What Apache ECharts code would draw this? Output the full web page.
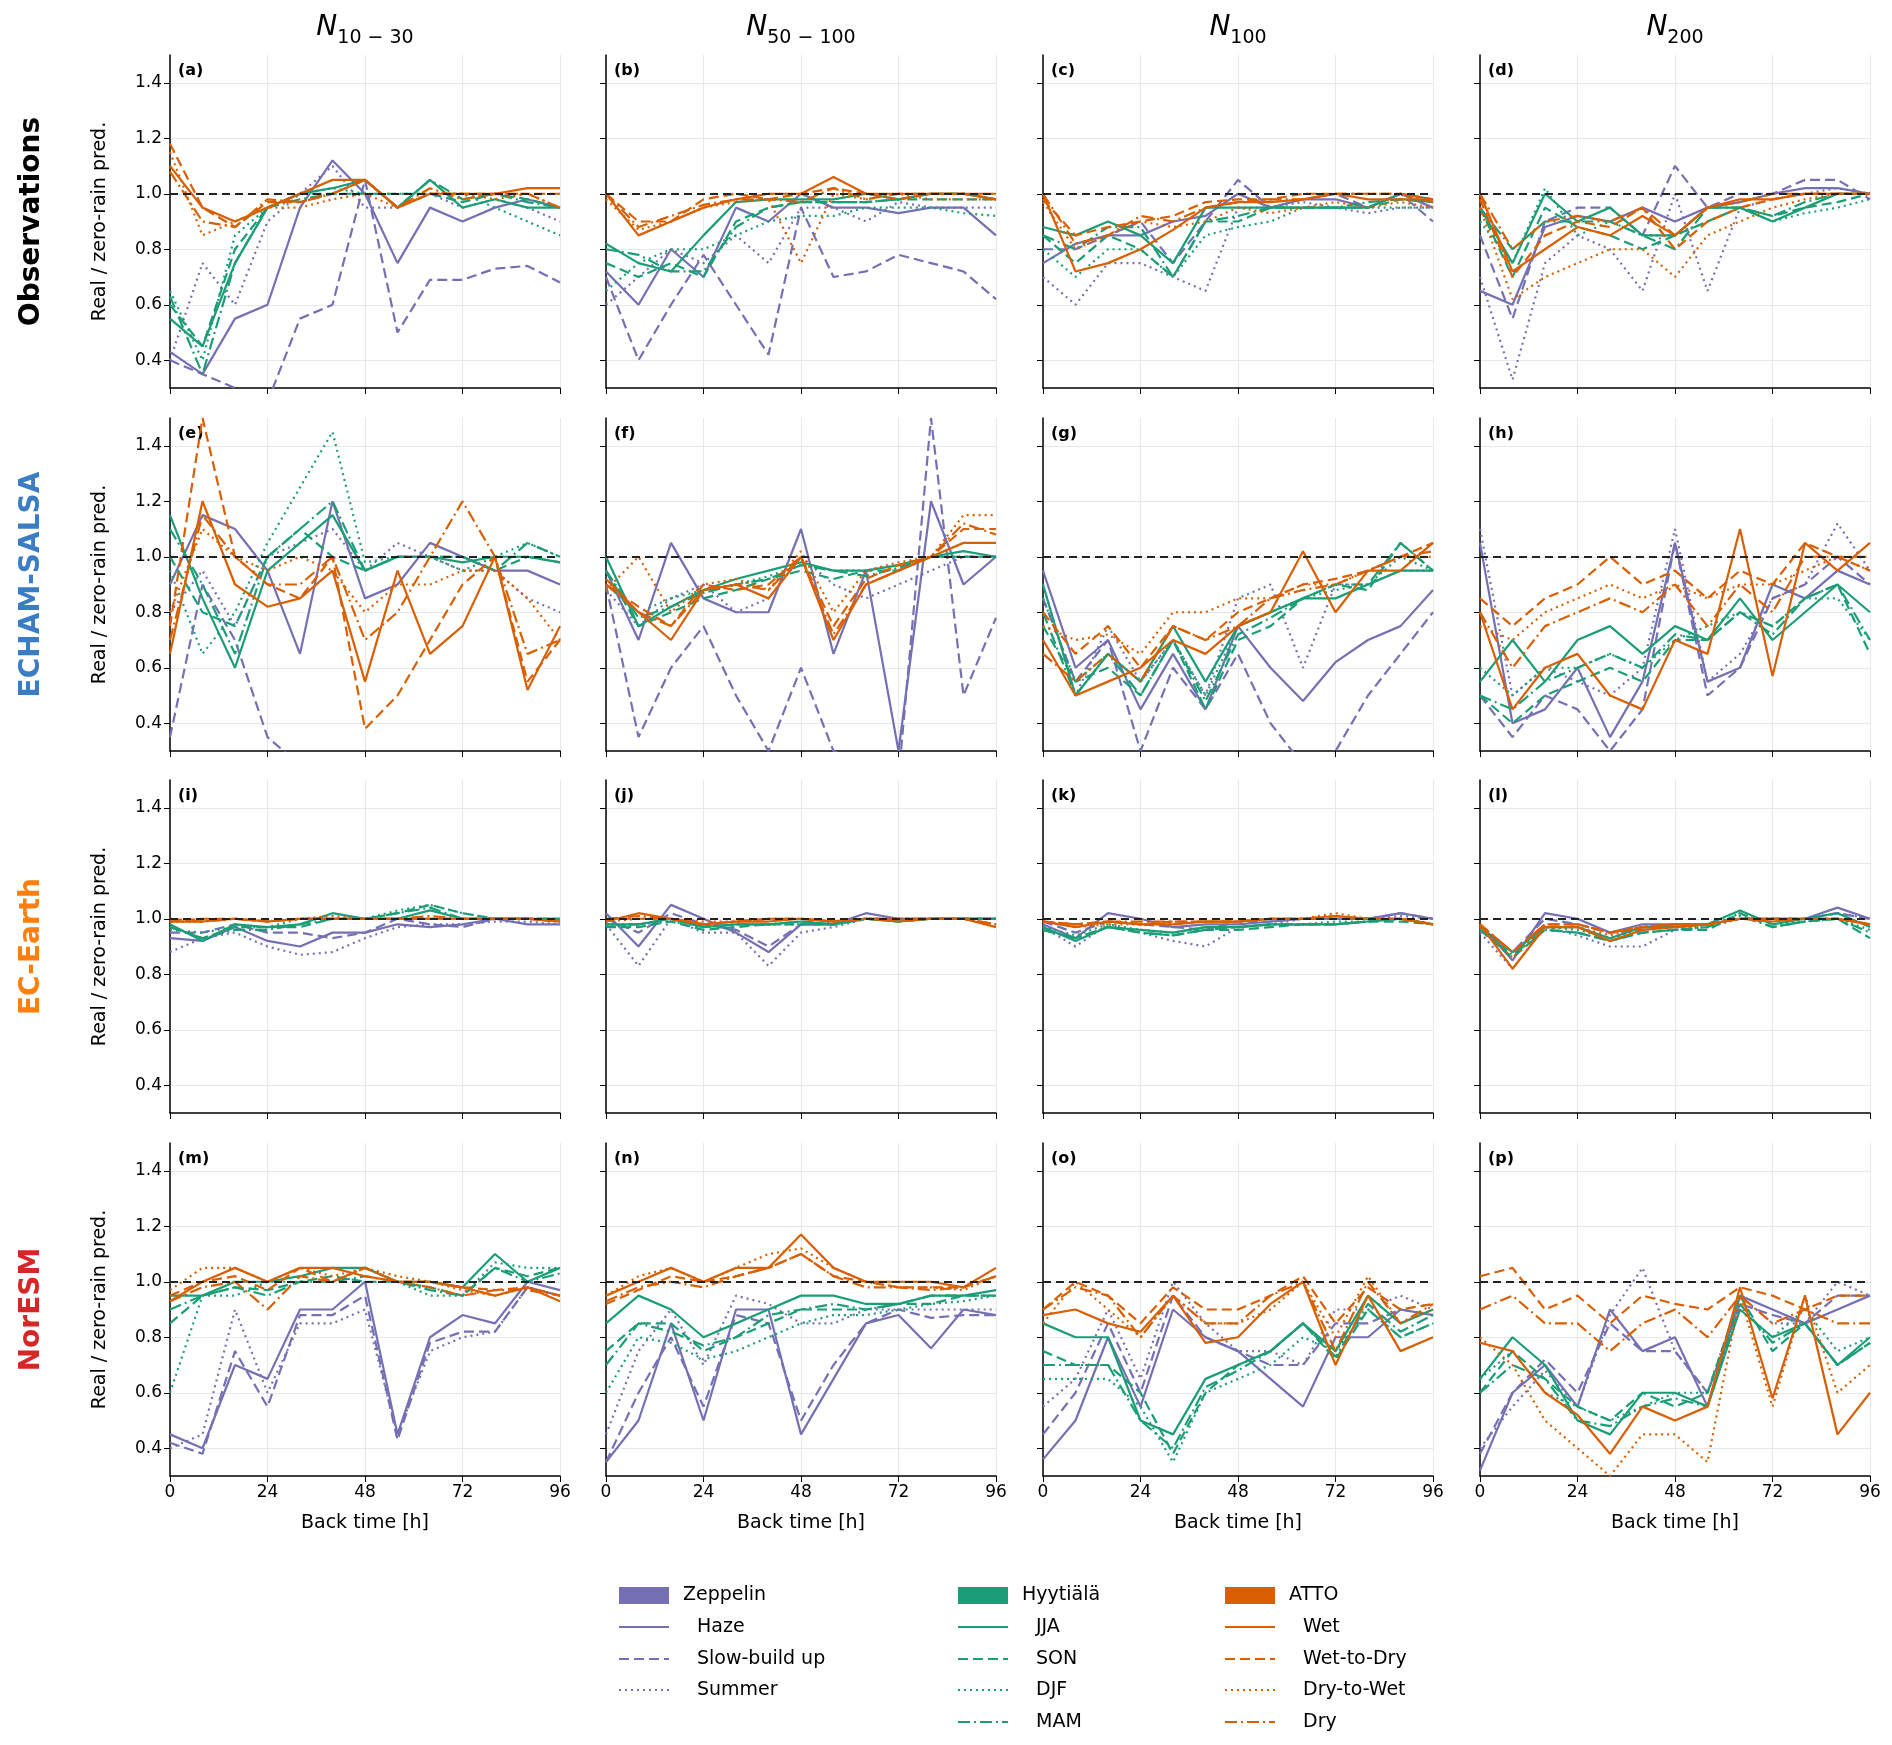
<!DOCTYPE html>
<html>
<head>
<meta charset="utf-8">
<script src="https://cdn.jsdelivr.net/npm/echarts@6/dist/echarts.min.js"></script>
<style>html,body{margin:0;background:#fff}#chart{width:1892px;height:1745px}</style>
</head>
<body>
<div id="chart"></div>
<script>
// back time (h) sampled every 8 h
var backTime = [0, 8, 16, 24, 32, 40, 48, 56, 64, 72, 80, 88, 96];
var seriesNames = ['Haze', 'Slow-build up', 'Summer', 'JJA', 'SON', 'DJF', 'MAM', 'Wet', 'Wet-to-Dry', 'Dry-to-Wet', 'Dry'];
var colTitles = ['10 − 30', '50 − 100', '100', '200'];
var rowTitles = ['Observations', 'ECHAM-SALSA', 'EC-Earth', 'NorESM'];
var rowColors = ['#000000', '#3b7dc4', '#ff7f0e', '#d62728'];
var letters = 'abcdefghijklmnop'.split('');
var yTicks = [0.4, 0.6, 0.8, 1.0, 1.2, 1.4];

// each panel: 11 series in order of seriesNames
var panelA = [
	[0.43,0.35,0.55,0.6,0.95,1.12,1.0,0.75,0.95,0.9,0.95,0.98,0.95],
	[0.4,0.35,0.3,0.25,0.55,0.6,1.05,0.5,0.69,0.69,0.73,0.74,0.68],
	[0.4,0.75,0.6,0.9,1.0,1.1,0.95,0.95,1.0,0.95,0.98,0.95,0.9],
	[0.55,0.45,0.75,0.95,1.0,1.02,1.05,0.95,1.05,0.95,0.98,0.95,0.95],
	[0.6,0.45,0.8,0.95,1.0,1.0,1.0,1.0,1.0,0.97,1.0,0.98,0.95],
	[0.65,0.4,0.85,0.95,1.0,1.02,1.0,1.0,1.0,1.0,0.95,0.9,0.85],
	[0.63,0.35,0.75,0.95,0.98,1.0,1.05,0.95,1.05,0.98,1.0,0.97,0.95],
	[1.1,0.95,0.9,0.95,1.0,1.05,1.05,0.95,1.0,1.0,1.0,1.02,1.02],
	[1.18,0.95,0.88,0.97,0.97,1.0,1.05,0.95,1.0,1.0,1.0,1.0,1.0],
	[1.15,0.85,0.9,0.95,0.95,0.98,1.0,0.95,1.0,1.0,0.98,1.0,0.95],
	[1.08,0.9,0.88,0.98,0.97,1.0,1.05,0.95,1.02,0.98,1.0,1.0,0.95]
];
var panelB = [
	[0.72,0.6,0.8,0.7,0.95,0.9,1.0,0.95,0.95,0.93,0.95,0.95,0.85],
	[0.7,0.4,0.6,0.78,0.6,0.42,0.95,0.7,0.72,0.78,0.75,0.72,0.62],
	[0.6,0.7,0.8,0.75,0.85,0.75,0.95,0.95,0.9,0.97,0.95,0.95,0.95],
	[0.82,0.75,0.72,0.85,0.97,0.98,0.98,0.98,1.0,0.98,1.0,1.0,0.98],
	[0.75,0.7,0.75,0.7,0.9,0.95,0.97,0.97,0.97,0.98,0.98,0.98,0.98],
	[0.65,0.75,0.8,0.8,0.85,0.9,0.92,0.92,0.95,0.95,0.95,0.93,0.92],
	[0.8,0.78,0.72,0.72,0.88,0.95,0.97,0.97,0.97,0.98,1.0,1.0,0.98],
	[1.0,0.85,0.9,0.95,0.98,1.0,1.0,1.06,1.0,1.0,1.0,1.0,1.0],
	[1.0,0.9,0.9,0.98,1.0,0.98,1.0,1.02,1.0,0.98,1.0,1.0,0.98],
	[0.98,0.87,0.9,0.95,0.97,0.98,0.75,1.0,0.98,1.0,0.98,0.98,0.98],
	[1.0,0.88,0.92,0.96,0.98,0.98,0.97,1.02,0.98,1.0,1.0,1.0,0.98]
];
var panelC = [
	[0.75,0.82,0.85,0.85,0.9,0.92,1.0,0.95,0.98,0.98,0.95,1.0,0.95],
	[0.8,0.8,0.85,0.9,0.75,0.9,1.05,0.95,0.98,1.0,0.95,1.0,0.9],
	[0.7,0.6,0.75,0.75,0.7,0.65,0.95,0.95,0.97,0.95,0.93,0.95,0.95],
	[0.88,0.85,0.9,0.85,0.75,0.95,0.95,0.95,0.95,0.95,0.95,1.0,0.98],
	[0.85,0.75,0.85,0.8,0.7,0.9,0.9,0.95,0.95,0.95,0.95,0.98,0.97],
	[0.8,0.7,0.8,0.8,0.7,0.85,0.88,0.9,0.95,0.95,0.95,0.95,0.95],
	[0.85,0.8,0.88,0.88,0.7,0.9,0.92,0.95,0.95,0.95,0.97,0.98,0.97],
	[1.0,0.72,0.75,0.8,0.87,0.95,0.97,0.97,0.98,1.0,0.98,0.98,0.98],
	[0.98,0.85,0.88,0.9,0.92,0.97,0.98,0.98,1.0,1.0,1.0,1.0,0.98],
	[0.97,0.8,0.85,0.9,0.88,0.9,0.95,0.93,0.95,0.97,0.95,0.97,0.95],
	[1.0,0.82,0.85,0.92,0.9,0.95,0.97,0.98,0.98,1.0,1.0,1.0,0.97]
];
var panelD = [
	[0.65,0.6,0.88,0.92,0.9,0.95,0.9,0.95,0.97,1.0,1.02,1.02,1.0],
	[0.85,0.55,0.9,0.95,0.95,0.85,1.1,0.95,1.0,1.0,1.05,1.05,0.98],
	[0.7,0.33,0.75,0.85,0.8,0.65,1.0,0.65,0.95,0.98,1.0,1.02,1.0],
	[0.95,0.75,1.0,0.9,0.95,0.85,0.85,0.95,0.95,0.9,0.95,1.0,1.0],
	[0.95,0.7,0.95,0.88,0.85,0.8,0.85,0.9,0.95,0.92,0.95,0.97,1.0],
	[0.9,0.75,1.02,0.85,0.9,0.85,0.85,0.9,0.95,0.9,0.93,0.95,0.98],
	[0.95,0.8,0.9,0.9,0.9,0.85,0.8,0.95,0.95,0.92,0.97,1.0,1.0],
	[1.0,0.72,0.8,0.88,0.85,0.92,0.85,0.95,0.98,0.98,1.0,1.0,1.0],
	[0.98,0.7,0.85,0.9,0.88,0.95,0.8,0.9,0.95,0.98,1.0,1.0,1.0],
	[0.95,0.62,0.7,0.75,0.8,0.8,0.7,0.85,0.9,0.95,0.98,1.0,1.0],
	[1.0,0.8,0.9,0.92,0.9,0.95,0.85,0.95,0.97,1.0,1.0,1.0,1.0]
];
var panelE = [
	[0.9,1.15,1.1,0.95,0.65,1.2,0.85,0.9,1.05,1.0,0.95,0.95,0.9],
	[0.35,0.9,0.7,0.35,0.25,0.2,0.2,0.2,0.2,0.2,0.2,0.2,0.2],
	[0.8,0.95,0.75,1.0,1.05,1.1,0.95,1.05,1.0,0.95,0.95,0.85,0.8],
	[1.15,0.85,0.6,0.95,1.05,1.15,0.95,1.0,1.0,0.98,1.0,1.0,0.98],
	[1.0,0.8,0.75,1.0,1.1,1.0,0.95,1.0,1.0,1.0,0.95,1.0,0.98],
	[0.95,0.65,0.8,1.05,1.25,1.45,0.98,1.0,1.0,0.95,1.0,1.05,1.0],
	[1.1,0.9,0.65,1.0,1.1,1.2,0.95,1.0,1.0,1.0,0.95,1.05,1.0],
	[0.65,1.2,0.9,0.82,0.85,0.95,0.55,0.95,0.65,0.75,1.0,0.52,0.75],
	[0.75,1.5,1.0,0.9,0.85,1.0,0.38,0.5,0.7,0.9,1.0,0.55,0.7],
	[0.8,1.1,1.0,0.95,1.0,0.95,0.8,0.9,0.9,0.95,0.95,0.85,0.7],
	[0.7,1.15,1.0,0.9,0.9,1.0,0.7,0.8,1.0,1.2,1.0,0.65,0.7]
];
var panelF = [
	[0.95,0.7,1.05,0.85,0.8,0.8,1.1,0.65,0.95,0.3,1.2,0.9,1.0],
	[0.9,0.35,0.6,0.75,0.5,0.3,0.6,0.3,0.25,0.2,1.5,0.5,0.78],
	[0.88,0.75,0.85,0.9,0.8,0.85,1.0,0.9,0.85,0.9,0.95,1.0,1.0],
	[1.0,0.75,0.82,0.88,0.92,0.95,0.98,0.95,0.95,0.97,1.0,1.02,1.0],
	[0.95,0.75,0.8,0.85,0.88,0.92,0.95,0.92,0.95,0.95,1.0,1.0,1.0],
	[0.9,0.8,0.85,0.88,0.9,0.93,0.97,0.95,0.95,0.97,1.0,1.0,1.0],
	[0.95,0.78,0.82,0.87,0.9,0.92,0.97,0.95,0.93,0.96,1.0,1.0,1.0],
	[0.92,0.8,0.7,0.88,0.9,0.85,1.0,0.7,0.9,0.95,1.0,1.05,1.05],
	[0.9,0.82,0.75,0.9,0.88,0.9,1.0,0.75,0.92,0.97,1.0,1.1,1.1],
	[0.88,1.0,0.8,0.9,0.92,0.88,1.02,0.8,0.95,0.98,1.0,1.15,1.15],
	[0.9,0.8,0.75,0.88,0.9,0.88,1.0,0.72,0.9,0.95,1.0,1.12,1.08]
];
var panelG = [
	[0.95,0.6,0.7,0.45,0.65,0.45,0.75,0.6,0.48,0.62,0.7,0.75,0.88],
	[0.85,0.55,0.7,0.3,0.6,0.45,0.65,0.4,0.25,0.3,0.5,0.65,0.8],
	[0.9,0.5,0.75,0.55,0.7,0.5,0.85,0.9,0.6,0.9,0.9,0.95,0.95],
	[0.9,0.5,0.65,0.55,0.75,0.55,0.75,0.8,0.85,0.85,0.9,0.95,0.95],
	[0.75,0.55,0.6,0.5,0.7,0.45,0.7,0.75,0.85,0.9,0.88,1.05,0.95],
	[0.85,0.55,0.65,0.55,0.7,0.5,0.75,0.8,0.85,0.88,0.9,1.0,0.95],
	[0.8,0.5,0.65,0.5,0.7,0.48,0.72,0.78,0.85,0.9,0.9,1.05,0.95],
	[0.7,0.5,0.55,0.6,0.7,0.65,0.75,0.8,1.02,0.8,0.95,0.95,1.05],
	[0.8,0.65,0.75,0.6,0.75,0.7,0.8,0.85,0.9,0.92,0.95,1.0,1.05],
	[0.75,0.7,0.72,0.65,0.8,0.8,0.85,0.85,0.9,0.9,0.95,1.0,1.0],
	[0.65,0.55,0.65,0.55,0.75,0.7,0.75,0.85,0.88,0.9,0.95,1.0,1.02]
];
var panelH = [
	[1.05,0.4,0.45,0.6,0.35,0.55,1.05,0.55,0.6,0.9,0.85,0.95,0.9],
	[0.5,0.35,0.5,0.45,0.3,0.45,1.05,0.5,0.6,0.85,0.9,1.0,0.9],
	[1.1,0.5,0.6,0.55,0.5,0.6,1.1,0.55,0.65,0.85,0.9,1.12,0.95],
	[0.55,0.7,0.55,0.7,0.75,0.65,0.75,0.7,0.85,0.7,0.8,0.9,0.8],
	[0.5,0.4,0.5,0.55,0.6,0.55,0.7,0.7,0.8,0.75,0.85,0.9,0.65],
	[0.6,0.5,0.6,0.6,0.65,0.6,0.7,0.75,0.8,0.75,0.85,0.85,0.7],
	[0.5,0.45,0.55,0.6,0.65,0.6,0.72,0.7,0.8,0.72,0.85,0.9,0.7],
	[0.8,0.45,0.6,0.65,0.5,0.45,0.7,0.65,1.1,0.57,1.05,0.95,1.05],
	[0.85,0.75,0.85,0.9,1.0,0.9,0.95,0.85,0.95,0.9,1.05,1.0,0.95],
	[0.75,0.7,0.8,0.85,0.9,0.85,0.9,0.85,0.9,0.9,0.95,1.0,0.95],
	[0.8,0.6,0.75,0.8,0.85,0.8,0.9,0.75,0.9,0.8,1.0,1.0,1.0]
];
var panelI = [
	[0.93,0.92,0.97,0.92,0.9,0.95,0.95,0.98,0.97,0.98,1.0,0.98,0.98],
	[0.95,0.95,0.98,0.95,0.95,0.93,0.95,1.0,0.98,0.97,1.0,1.0,0.99],
	[0.88,0.93,0.95,0.9,0.87,0.88,0.93,0.97,0.98,0.98,0.99,0.99,0.98],
	[0.98,0.92,0.98,0.97,0.98,1.02,1.0,1.0,1.03,1.0,1.0,1.0,1.0],
	[0.97,0.93,0.97,0.97,0.97,1.0,1.0,1.02,1.05,1.02,1.0,1.0,1.0],
	[0.96,0.95,0.97,0.97,1.0,1.0,1.0,1.03,1.05,1.02,1.0,1.0,1.0],
	[0.97,0.93,0.96,0.96,0.98,1.0,1.0,1.02,1.04,1.0,1.0,1.0,1.0],
	[0.99,0.99,1.0,0.99,1.0,1.0,1.0,1.0,1.0,1.0,1.0,1.0,0.99],
	[0.99,1.0,1.0,0.99,1.0,1.0,1.0,1.0,1.0,1.0,1.0,1.0,0.99],
	[0.99,0.99,1.0,0.99,1.0,1.01,1.0,1.0,1.0,1.0,1.0,1.0,0.99],
	[1.0,0.99,1.0,0.99,1.0,1.0,1.0,1.0,1.01,1.0,1.0,1.0,0.99]
];
var panelJ = [
	[1.02,0.9,1.05,1.0,0.95,0.88,0.98,0.98,1.02,1.0,1.0,1.0,1.0],
	[1.0,0.95,1.02,0.98,0.96,0.9,0.98,0.98,1.0,1.0,1.0,1.0,1.0],
	[0.98,0.83,1.0,0.95,0.95,0.83,0.95,0.97,1.0,1.0,1.0,1.0,1.0],
	[0.98,0.98,1.0,0.97,0.98,0.98,0.99,0.98,1.0,0.99,1.0,1.0,1.0],
	[0.97,0.97,0.99,0.96,0.97,0.98,0.98,0.98,1.0,0.99,1.0,1.0,1.0],
	[0.97,0.98,0.99,0.97,0.98,0.98,0.98,0.99,1.0,0.99,1.0,1.0,1.0],
	[0.98,0.98,1.0,0.97,0.98,0.98,0.99,0.98,1.0,0.99,1.0,1.0,1.0],
	[0.99,1.02,1.0,0.98,0.99,0.99,1.0,0.99,1.0,0.99,1.0,1.0,0.97],
	[1.0,1.0,1.0,0.98,0.99,1.0,1.0,0.99,1.0,1.0,1.0,1.0,0.98],
	[0.99,1.0,1.0,0.99,0.99,1.0,1.0,0.99,1.0,1.0,1.0,1.0,0.98],
	[1.0,1.01,1.0,0.98,0.99,1.0,1.0,0.99,1.0,1.0,1.0,1.0,0.98]
];
var panelK = [
	[0.98,0.93,1.02,1.0,0.97,0.98,0.98,0.99,1.0,1.0,1.0,1.02,1.0],
	[0.99,0.95,0.99,0.98,0.97,0.96,0.99,0.99,1.0,1.0,1.0,1.02,1.0],
	[0.97,0.9,0.98,0.95,0.92,0.9,0.97,0.98,1.0,1.0,1.0,1.01,1.0],
	[0.97,0.92,0.97,0.96,0.95,0.97,0.97,0.98,0.98,0.98,0.99,1.0,0.98],
	[0.96,0.93,0.97,0.95,0.94,0.96,0.96,0.97,0.98,0.98,0.99,0.99,0.98],
	[0.97,0.94,0.98,0.96,0.95,0.97,0.97,0.98,0.98,0.99,0.99,1.0,0.98],
	[0.96,0.93,0.97,0.95,0.94,0.96,0.97,0.98,0.98,0.98,0.99,1.0,0.98],
	[0.99,0.97,0.99,0.98,0.98,0.99,0.99,1.0,1.0,1.01,1.0,1.0,0.98],
	[0.99,0.98,0.99,0.98,0.99,0.99,0.99,1.0,1.0,1.0,1.0,1.0,0.98],
	[0.99,0.97,0.98,0.98,0.98,0.99,0.99,1.0,1.0,1.02,1.0,1.0,0.98],
	[0.99,0.98,0.99,0.99,0.99,0.99,0.99,1.0,1.0,1.01,1.0,1.0,0.98]
];
var panelL = [
	[0.98,0.85,1.02,1.0,0.95,0.98,0.98,0.98,1.0,1.0,1.0,1.04,1.0],
	[0.97,0.88,1.0,0.98,0.95,0.96,0.98,0.98,1.0,1.0,1.0,1.02,1.0],
	[0.95,0.82,0.97,0.94,0.9,0.9,0.96,0.97,1.0,1.0,1.0,1.02,1.0],
	[0.97,0.88,0.97,0.97,0.93,0.97,0.97,0.98,1.03,0.98,1.0,1.02,0.97],
	[0.96,0.86,0.96,0.95,0.92,0.95,0.96,0.96,1.02,0.97,0.99,1.0,0.93],
	[0.97,0.88,0.97,0.96,0.93,0.96,0.97,0.97,1.02,0.98,0.99,1.0,0.96],
	[0.96,0.87,0.96,0.95,0.92,0.95,0.96,0.97,1.01,0.97,0.99,1.0,0.95],
	[0.98,0.82,0.97,0.97,0.92,0.96,0.97,0.98,1.0,0.99,1.0,1.0,0.98],
	[0.98,0.88,0.98,0.98,0.95,0.97,0.98,0.98,1.0,1.0,1.0,1.0,0.98],
	[0.97,0.86,0.97,0.97,0.94,0.97,0.98,0.98,1.0,1.0,1.0,1.0,0.98],
	[0.98,0.88,0.98,0.98,0.95,0.97,0.98,0.98,1.0,1.0,1.0,1.0,0.98]
];
var panelM = [
	[0.45,0.4,0.7,0.65,0.9,0.9,1.0,0.45,0.8,0.88,0.85,1.0,0.97],
	[0.42,0.38,0.75,0.55,0.88,0.88,0.95,0.43,0.78,0.82,0.82,0.98,0.95],
	[0.4,0.45,0.9,0.6,0.85,0.85,0.9,0.45,0.75,0.8,0.82,0.98,0.95],
	[0.95,0.95,1.0,1.0,1.02,1.05,1.05,1.0,1.0,0.98,1.1,1.0,1.05],
	[0.85,0.95,0.98,0.97,1.0,1.02,1.0,1.0,0.98,0.95,1.05,1.02,1.05],
	[0.6,0.95,0.95,1.0,1.0,1.0,1.05,1.0,0.95,0.95,1.07,1.05,1.05],
	[0.9,0.95,0.98,0.95,1.0,1.0,1.02,1.0,0.97,0.95,1.05,1.0,1.03],
	[0.93,1.0,1.05,1.0,1.05,1.05,1.02,1.0,1.0,0.98,0.95,0.98,0.93],
	[0.95,1.0,1.02,0.97,1.05,1.0,1.05,1.0,1.0,0.98,0.97,0.98,0.95],
	[0.97,1.05,1.05,1.0,1.05,1.02,1.05,1.02,1.0,0.97,0.95,0.98,0.95],
	[0.93,0.98,1.0,0.9,1.02,1.0,1.05,1.0,0.98,0.95,0.97,0.97,0.95]
];
var panelN = [
	[0.35,0.5,0.85,0.5,0.9,0.9,0.45,0.65,0.85,0.88,0.76,0.9,0.88],
	[0.35,0.6,0.8,0.55,0.88,0.85,0.5,0.7,0.85,0.9,0.87,0.88,0.88],
	[0.45,0.75,0.9,0.7,0.95,0.92,0.85,0.85,0.9,0.9,0.9,0.9,0.9],
	[0.85,0.95,0.9,0.8,0.85,0.9,0.95,0.95,0.92,0.92,0.95,0.95,0.97],
	[0.75,0.85,0.85,0.75,0.8,0.85,0.9,0.9,0.9,0.92,0.92,0.95,0.95],
	[0.6,0.8,0.78,0.72,0.75,0.8,0.85,0.88,0.88,0.9,0.92,0.93,0.95],
	[0.7,0.85,0.82,0.77,0.8,0.88,0.9,0.92,0.9,0.92,0.95,0.95,0.95],
	[0.95,1.0,1.05,1.0,1.05,1.05,1.17,1.05,1.0,1.0,1.0,0.98,1.05],
	[0.92,0.97,1.02,1.0,1.02,1.05,1.1,1.02,1.0,0.98,0.98,0.98,1.02],
	[0.95,1.02,1.05,1.0,1.05,1.1,1.12,1.05,1.0,0.98,0.98,0.97,1.02],
	[0.93,0.98,1.0,0.98,1.02,1.05,1.1,1.02,0.98,0.98,0.97,0.98,1.02]
];
var panelO = [
	[0.36,0.5,0.8,0.55,0.9,0.8,0.75,0.65,0.55,0.8,0.8,0.9,0.88],
	[0.45,0.6,0.85,0.6,0.95,0.8,0.75,0.7,0.7,0.85,0.85,0.9,0.88],
	[0.55,0.65,0.9,0.65,1.0,0.85,0.75,0.75,0.7,0.9,0.9,0.95,0.9],
	[0.85,0.8,0.8,0.5,0.45,0.65,0.7,0.75,0.85,0.75,0.95,0.85,0.9],
	[0.75,0.7,0.7,0.6,0.38,0.6,0.7,0.75,0.85,0.72,0.9,0.8,0.85],
	[0.65,0.65,0.65,0.55,0.35,0.6,0.65,0.7,0.8,0.75,0.9,0.8,0.85],
	[0.7,0.7,0.7,0.5,0.4,0.62,0.68,0.75,0.85,0.73,0.92,0.82,0.88],
	[0.88,0.9,0.85,0.82,0.95,0.78,0.8,0.92,1.0,0.7,0.95,0.75,0.8],
	[0.9,1.0,0.95,0.85,0.98,0.9,0.9,0.95,1.02,0.85,0.98,0.9,0.92],
	[0.85,1.0,0.9,0.8,0.95,0.85,0.85,0.9,1.0,0.8,1.02,0.85,0.9],
	[0.9,0.98,0.95,0.8,0.95,0.85,0.85,0.95,1.0,0.75,1.0,0.85,0.92]
];
var panelP = [
	[0.32,0.6,0.7,0.55,0.9,0.75,0.8,0.55,0.95,0.9,0.85,0.9,0.95],
	[0.38,0.6,0.72,0.6,0.85,0.75,0.75,0.6,0.92,0.88,0.85,0.95,0.95],
	[0.4,0.55,0.68,0.55,0.88,1.05,0.75,0.6,0.95,0.85,0.85,1.0,0.95],
	[0.65,0.8,0.7,0.5,0.45,0.6,0.6,0.55,0.9,0.8,0.85,0.7,0.8],
	[0.6,0.75,0.65,0.55,0.5,0.6,0.55,0.6,0.95,0.75,0.85,0.7,0.78],
	[0.65,0.75,0.6,0.55,0.5,0.55,0.6,0.6,0.9,0.8,0.9,0.75,0.8],
	[0.6,0.7,0.65,0.5,0.48,0.55,0.58,0.55,0.92,0.78,0.85,0.7,0.78],
	[0.78,0.75,0.6,0.52,0.38,0.55,0.5,0.55,0.98,0.58,0.95,0.45,0.6],
	[1.02,1.05,0.9,0.95,0.85,0.95,0.92,0.9,0.98,0.95,0.9,0.95,0.95],
	[0.8,0.7,0.5,0.4,0.3,0.45,0.45,0.35,0.95,0.55,0.95,0.6,0.7],
	[0.9,0.95,0.85,0.85,0.75,0.85,0.9,0.8,0.95,0.85,0.9,0.85,0.85]
];
var panels = [panelA, panelB, panelC, panelD, panelE, panelF, panelG, panelH,
	panelI, panelJ, panelK, panelL, panelM, panelN, panelO, panelP];

var ZEP = '#7570b3', HYY = '#1b9e77', ATTO = '#d95f02';
var seriesColors = [ZEP, ZEP, ZEP, HYY, HYY, HYY, HYY, ATTO, ATTO, ATTO, ATTO];
var DASH = [10, 5], DOT = [2, 4], DASHDOT = [12, 4, 2, 4];
var seriesDash = ['solid', DASH, DOT, 'solid', DASH, DOT, DASHDOT, 'solid', DASH, DOT, DASHDOT];

var lefts = [170, 606, 1043, 1480], tops = [55, 418, 780, 1143];
var W = 390, H = 333;
var FONT = 'DejaVu Sans';

var grids = [], xAxes = [], yAxes = [], series = [], graphics = [];

panels.forEach(function (panel, p) {
	var r = Math.floor(p / 4), c = p % 4;
	grids.push({ left: lefts[c], top: tops[r], width: W, height: H });
	xAxes.push({
		type: 'value', gridIndex: p, min: 0, max: 96, interval: 24,
		name: r === 3 ? 'Back time [h]' : '', nameLocation: 'middle', nameGap: 38,
		nameTextStyle: { fontFamily: FONT, fontSize: 19, color: '#000' },
		axisLine: { lineStyle: { color: '#000', width: 1.5 } },
		axisTick: { show: true, inside: false, length: 6, lineStyle: { color: '#000' } },
		axisLabel: { show: r === 3, fontFamily: FONT, fontSize: 17, color: '#000' },
		splitLine: { show: true, lineStyle: { color: '#e8e8e8' } }
	});
	yAxes.push({
		type: 'value', gridIndex: p, min: 0.3, max: 1.5, interval: 0.1,
		name: c === 0 ? 'Real / zero-rain pred.' : '', nameLocation: 'middle', nameGap: 60,
		nameTextStyle: { fontFamily: FONT, fontSize: 19, color: '#000' },
		axisLine: { show: true, lineStyle: { color: '#000', width: 1.5 } },
		axisTick: { show: true, length: 6, customValues: yTicks, lineStyle: { color: '#000' } },
		axisLabel: { show: c === 0, customValues: yTicks, fontFamily: FONT, fontSize: 17, color: '#000',
			formatter: function (v) { return v.toFixed(1); } },
		splitLine: { show: true, lineStyle: { color: '#e8e8e8' } }
	});
	series.push({
		type: 'line', xAxisIndex: p, yAxisIndex: p, data: [], silent: true,
		markLine: { symbol: 'none', silent: true, label: { show: false },
			lineStyle: { color: '#222', type: [8, 5], width: 2 }, data: [{ yAxis: 1 }] }
	});
	panel.forEach(function (vals, s) {
		series.push({
			type: 'line', name: seriesNames[s], xAxisIndex: p, yAxisIndex: p,
			data: backTime.map(function (t, i) { return [t, vals[i]]; }),
			showSymbol: false, clip: true, silent: true, z: s >= 7 ? 4 : (s >= 3 ? 3 : 2),
			lineStyle: { color: seriesColors[s], width: 2.2, type: seriesDash[s] }
		});
	});
	graphics.push({ type: 'text', left: lefts[c] + 8, top: tops[r] + 8,
		style: { text: '(' + letters[p] + ')', font: 'bold 16px ' + FONT, fill: '#000' } });
});

// column headers
colTitles.forEach(function (t, c) {
	graphics.push({ type: 'text', x: lefts[c] + W / 2, y: 42,
		style: { text: '{n|N}{s|' + t + '}', textAlign: 'center', textVerticalAlign: 'bottom',
			rich: { n: { fontFamily: FONT, fontStyle: 'italic', fontSize: 28, verticalAlign: 'bottom' },
				s: { fontFamily: FONT, fontSize: 19, verticalAlign: 'bottom', padding: [0, 0, -6, 0] } } } });
});
// row headers
rowTitles.forEach(function (t, r) {
	graphics.push({ type: 'text', x: 32, y: tops[r] + H / 2, rotation: Math.PI / 2,
		style: { text: t, textAlign: 'center', textVerticalAlign: 'middle',
			font: 'bold 28px ' + FONT, fill: rowColors[r] } });
});

// legend
var legCols = [
	{ x: 619, head: 'Zeppelin', color: ZEP, items: [0, 1, 2] },
	{ x: 958, head: 'Hyytiälä', color: HYY, items: [3, 4, 5, 6] },
	{ x: 1225, head: 'ATTO', color: ATTO, items: [7, 8, 9, 10] }
];
var legY = [1595, 1627, 1659, 1690, 1722];
legCols.forEach(function (lc) {
	graphics.push({ type: 'rect', shape: { x: lc.x, y: legY[0] - 8, width: 50, height: 17 },
		style: { fill: lc.color } });
	graphics.push({ type: 'text', x: lc.x + 64, y: legY[0],
		style: { text: lc.head, font: '19px ' + FONT, fill: '#000', textVerticalAlign: 'middle' } });
	lc.items.forEach(function (s, k) {
		var y = legY[k + 1];
		graphics.push({ type: 'line', shape: { x1: lc.x, y1: y, x2: lc.x + 50, y2: y },
			style: { stroke: seriesColors[s], lineWidth: 2.2, lineDash: seriesDash[s] === 'solid' ? null : seriesDash[s] } });
		graphics.push({ type: 'text', x: lc.x + 78, y: y,
			style: { text: seriesNames[s], font: '19px ' + FONT, fill: '#000', textVerticalAlign: 'middle' } });
	});
});

var chart = echarts.init(document.getElementById('chart'));
chart.setOption({
	backgroundColor: '#fff',
	animation: false,
	grid: grids,
	xAxis: xAxes,
	yAxis: yAxes,
	series: series,
	graphic: graphics
});
</script>
</body>
</html>
